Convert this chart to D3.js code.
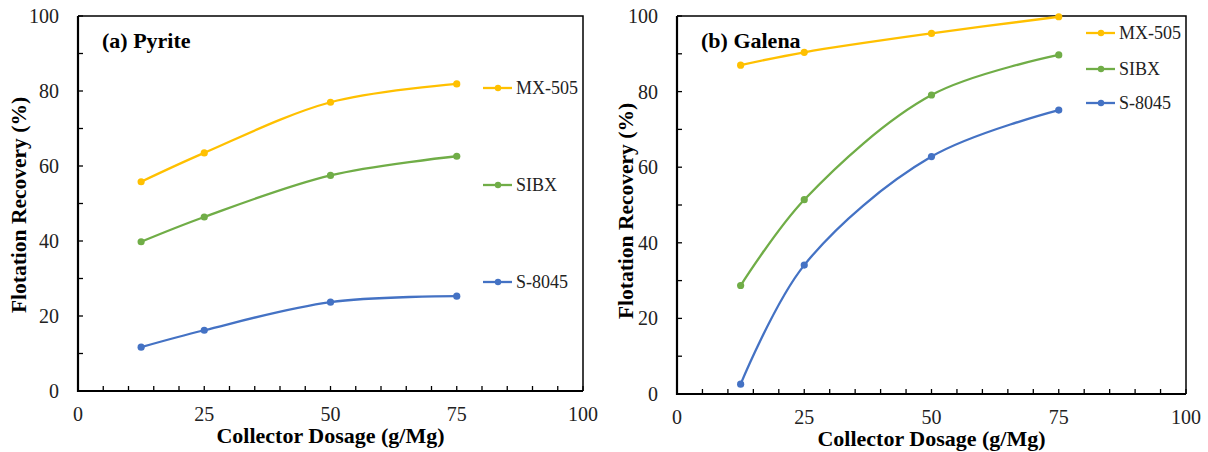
<!DOCTYPE html>
<html>
<head>
<meta charset="utf-8">
<script src="https://cdn.jsdelivr.net/npm/d3@7"></script>
<style>
  html, body { margin: 0; padding: 0; background: #fff; }
  svg { display: block; }
  svg text { font-family: "Liberation Serif", "DejaVu Serif", "Times New Roman", serif; }
</style>
</head>
<body>
<svg id="chart" width="1208" height="452"></svg>
<script>
// collector dosage, g/Mg
const dosages = [12.5, 25, 50, 75]

const seriesNames = ['MX-505', 'SIBX', 'S-8045']
const seriesColors = ['#FFC000', '#70AD47', '#4472C4']

// (a) pyrite recovery, %
const pyriteMX505 = [55.8, 63.5, 77.0, 81.9]
const pyriteSIBX = [39.8, 46.4, 57.5, 62.6]
const pyriteS8045 = [11.7, 16.2, 23.7, 25.3]

// (b) galena recovery, %
const galenaMX505 = [87.0, 90.4, 95.4, 99.8]
const galenaSIBX = [28.7, 51.4, 79.1, 89.7]
const galenaS8045 = [2.6, 34.1, 62.8, 75.1]

const xTicks = [0, 25, 50, 75, 100]
const xMinorTicks = d3.range(0, 101, 5)
const yTicks = [0, 20, 40, 60, 80, 100]
const yMinorTicks = d3.range(0, 101, 10)

const panels = [
  {
    title: '(a) Pyrite',
    values: [pyriteMX505, pyriteSIBX, pyriteS8045],
    box: { left: 78, top: 16, right: 583, bottom: 391 },
    legend: { x: 483, ys: [88, 185, 282] },
    yTitle: { x: 18, y: 205 }
  },
  {
    title: '(b) Galena',
    values: [galenaMX505, galenaSIBX, galenaS8045],
    box: { left: 677, top: 16, right: 1186, bottom: 394 },
    legend: { x: 1086, ys: [33, 69, 103] },
    yTitle: { x: 625, y: 211 }
  }
]

const svg = d3.select('#chart')

function drawPanel(p) {
  const b = p.box
  const x = d3.scaleLinear().domain([0, 100]).range([b.left, b.right])
  const y = d3.scaleLinear().domain([0, 100]).range([b.bottom, b.top])
  const g = svg.append('g')

  // frame top/right
  g.append('path')
    .attr('d', `M${b.left},${b.top}H${b.right}V${b.bottom}`)
    .attr('fill', 'none')
    .attr('stroke', '#000')
    .attr('stroke-width', 1.5)

  // minor ticks (inside)
  g.selectAll('.xt')
    .data(xMinorTicks)
    .enter()
    .append('line')
    .attr('x1', (d) => x(d))
    .attr('x2', (d) => x(d))
    .attr('y1', b.bottom)
    .attr('y2', b.bottom - 5)
    .attr('stroke', '#000')
    .attr('stroke-width', 1.3)

  g.selectAll('.yt')
    .data(yMinorTicks)
    .enter()
    .append('line')
    .attr('x1', b.left)
    .attr('x2', b.left + 5)
    .attr('y1', (d) => y(d))
    .attr('y2', (d) => y(d))
    .attr('stroke', '#000')
    .attr('stroke-width', 1.3)

  // axis lines
  g.append('path')
    .attr('d', `M${b.left},${b.top}V${b.bottom}H${b.right}`)
    .attr('fill', 'none')
    .attr('stroke', '#000')
    .attr('stroke-width', 2.2)

  // tick labels
  g.selectAll('.xl')
    .data(xTicks)
    .enter()
    .append('text')
    .attr('x', (d) => x(d))
    .attr('y', b.bottom + 30)
    .attr('text-anchor', 'middle')
    .attr('font-size', 20)
    .attr('fill', '#222')
    .text((d) => d)

  g.selectAll('.yl')
    .data(yTicks)
    .enter()
    .append('text')
    .attr('x', b.left - 19)
    .attr('y', (d) => y(d))
    .attr('dy', '0.35em')
    .attr('text-anchor', 'end')
    .attr('font-size', 20)
    .attr('fill', '#222')
    .text((d) => d)

  // axis titles
  g.append('text')
    .attr('x', (b.left + b.right) / 2)
    .attr('y', b.bottom + 52)
    .attr('text-anchor', 'middle')
    .attr('font-size', 22)
    .attr('font-weight', 'bold')
    .text('Collector Dosage (g/Mg)')

  g.append('text')
    .attr('transform', `translate(${p.yTitle.x},${p.yTitle.y}) rotate(-90)`)
    .attr('dy', '0.35em')
    .attr('text-anchor', 'middle')
    .attr('font-size', 21.5)
    .attr('font-weight', 'bold')
    .text('Flotation Recovery (%)')

  // panel title
  g.append('text')
    .attr('x', b.left + 24)
    .attr('y', 48)
    .attr('font-size', 22)
    .attr('font-weight', 'bold')
    .text(p.title)

  const line = d3
    .line()
    .x((d) => x(d[0]))
    .y((d) => y(d[1]))
    .curve(d3.curveCatmullRom.alpha(0.5))

  p.values.forEach((vals, i) => {
    const pts = dosages.map((d, j) => [d, vals[j]])
    g.append('path')
      .datum(pts)
      .attr('d', line)
      .attr('fill', 'none')
      .attr('stroke', seriesColors[i])
      .attr('stroke-width', 2.3)
      .attr('stroke-linejoin', 'round')

    g.selectAll('.pt' + i)
      .data(pts)
      .enter()
      .append('circle')
      .attr('cx', (d) => x(d[0]))
      .attr('cy', (d) => y(d[1]))
      .attr('r', 3.6)
      .attr('fill', seriesColors[i])

    // legend entry
    const ly = p.legend.ys[i]
    g.append('line')
      .attr('x1', p.legend.x)
      .attr('x2', p.legend.x + 29)
      .attr('y1', ly)
      .attr('y2', ly)
      .attr('stroke', seriesColors[i])
      .attr('stroke-width', 2.3)
    g.append('circle')
      .attr('cx', p.legend.x + 15)
      .attr('cy', ly)
      .attr('r', 3.2)
      .attr('fill', seriesColors[i])
    g.append('text')
      .attr('x', p.legend.x + 33)
      .attr('y', ly)
      .attr('dy', '0.35em')
      .attr('font-size', 18)
      .attr('fill', '#222')
      .text(seriesNames[i])
  })
}

panels.forEach(drawPanel)
</script>
</body>
</html>
